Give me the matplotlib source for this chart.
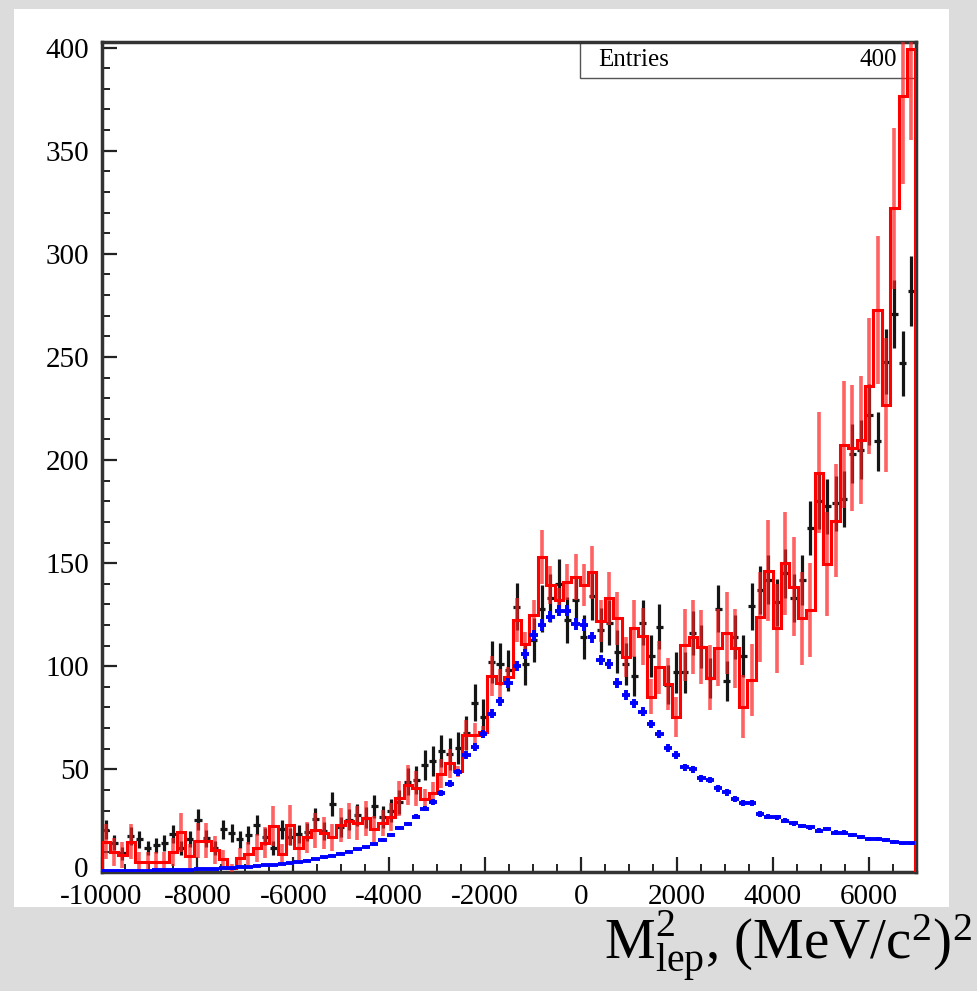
import numpy as np
import matplotlib.pyplot as plt
from matplotlib.patches import Rectangle
from matplotlib.ticker import MultipleLocator, FuncFormatter

plt.rcParams['font.family'] = 'Liberation Serif'
plt.rcParams['mathtext.fontset'] = 'custom'
plt.rcParams['mathtext.rm'] = 'Liberation Serif'
plt.rcParams['mathtext.it'] = 'Liberation Serif:italic'
plt.rcParams['axes.unicode_minus'] = False

# Histogram binning (ROOT style): first edge, bin width, number of bins
x_low = -10000
bin_w = 175
nbins = 97

# Data points (black)
black = [20.8, 14.5, 9.3, 17.7, 16.1, 11.7, 13.3, 14.3, 18.8, 11.7,
         16.2, 25.5, 16.6, 11.7, 20.9, 19.3, 16.1, 18.2, 23.0, 17.4,
         12.0, 20.9, 17.4, 18.5, 19.5, 26.0, 20.2, 33.2, 22.0, 25.5,
         28.0, 26.5, 32.0, 27.0, 30.0, 34.3, 44.0, 44.8, 52.1, 54.2,
         59.0, 57.5, 60.2, 67.5, 82.3, 75.5, 102.0, 101.0, 98.0, 128.8,
         101.0, 112.7, 128.0, 133.0, 140.0, 122.5, 132.0, 114.0, 134.0, 117.6,
         121.2, 107.0, 101.0, 95.3, 121.2, 105.0, 119.2, 91.0, 97.0, 97.0,
         116.0, 109.5, 94.5, 128.0, 93.0, 114.0, 105.0, 129.0, 137.0, 142.0,
         131.0, 145.0, 133.0, 141.8, 167.0, 180.0, 177.7, 179.0, 181.0, 203.0,
         205.0, 222.0, 209.0, 247.7, 270.8, 247.0, 282.0]

# Simulation total (red histogram)
red = [15, 10, 8.5, 15, 5.2, 5.2, 5.2, 5.2, 10, 19.5,
       8, 15.5, 15.5, 11, 6.4, 2, 7, 9, 12, 14.5,
       22.5, 9, 23, 12, 17, 20.5, 19, 17, 23, 25,
       24, 26.3, 21, 24, 27, 36, 42.4, 40.8, 35.5, 38.7,
       47.8, 52.9, 49, 66.7, 66.7, 68, 95.3, 91.7, 95, 122.4,
       111, 124.8, 153, 139.4, 132, 141, 143.4, 139.4, 145.5, 122,
       133, 123.2, 104.5, 118.4, 114.5, 85.3, 99.5, 91.5, 75.5, 110.3,
       114, 109.5, 94.5, 109, 116.2, 108.7, 80.4, 93.3, 124, 146.3,
       118.4, 149.9, 138.6, 123.2, 127.3, 193.9, 149.6, 170.6, 207.5, 205.7,
       209.8, 235.9, 272.7, 226.7, 322, 376.5, 399.3]

# Signal component (blue)
blue = [0.5, 0.6, 0.6, 0.7, 0.8, 0.9, 1.0, 1.1, 1.2, 1.3,
        1.4, 1.5, 1.7, 1.8, 2.0, 2.2, 2.5, 2.8, 3.1, 3.4,
        3.8, 4.2, 4.7, 5.2, 5.8, 6.5, 7.3, 8.1, 9.0, 10.0,
        11.2, 12.2, 13.6, 15.8, 18.0, 21.5, 23.5, 27.0, 31.0, 34.0,
        38.5, 43.0, 48.7, 57.0, 61.0, 67.0, 77.0, 83.0, 92.0, 100.0,
        106.0, 115.0, 120.0, 124.0, 127.0, 127.0, 120.5, 120.0, 114.0, 103.0,
        101.0, 92.0, 86.0, 82.0, 78.0, 72.0, 67.0, 60.3, 57.0, 51.0,
        50.0, 45.7, 44.8, 40.8, 38.8, 35.5, 33.9, 33.5, 28.4, 27.1,
        26.7, 25.1, 23.8, 22.5, 21.9, 20.3, 21.0, 19.3, 19.3, 18.2,
        17.1, 16.1, 16.1, 15.8, 14.9, 14.1, 14.1]

n_entries = 400

# weights of the MC samples (background weighted, signal high statistics)
w_bkg = 5.0
w_sig = 0.06

black = np.array(black)
red = np.array(red)
blue = np.array(blue)

edges = x_low + bin_w*np.arange(nbins + 1)
centers = 0.5*(edges[:-1] + edges[1:])

black_err = np.sqrt(black)
blue_err = np.sqrt(w_sig*blue)
red_err = np.sqrt(w_bkg*np.maximum(red - blue, 1) + w_sig*blue)

fig = plt.figure(figsize=(9.78, 9.91), dpi=100, facecolor='#dcdcdc')
# white pad behind the frame
fig.patches.append(Rectangle((14/978, 1 - 907/991), 935/978, 898/991,
                             transform=fig.transFigure, facecolor='white',
                             edgecolor='none', zorder=-1))

ax = fig.add_axes([0.1038, 0.1196, 0.8333, 0.838])

ax.errorbar(centers, black, xerr=0.42*bin_w, yerr=black_err, fmt='none',
            ecolor='#151515', elinewidth=2.3, capsize=0, zorder=2)
ax.vlines(centers, red - red_err, red + red_err, color='#ff2020', alpha=0.7,
          lw=2.6, zorder=3)
ax.stairs(red, edges, color='red', lw=2.2, zorder=4)
ax.errorbar(centers, blue, xerr=0.5*bin_w, yerr=blue_err, fmt='none',
            ecolor='#0000ff', elinewidth=2.8, capsize=0, zorder=5)

ax.set_xlim(-10000, 7000)
ax.set_ylim(0, 402.7)

ax.xaxis.set_major_locator(MultipleLocator(2000))
ax.xaxis.set_minor_locator(MultipleLocator(500))
ax.yaxis.set_major_locator(MultipleLocator(50))
ax.yaxis.set_minor_locator(MultipleLocator(10))
# the "0" of the y axis is written by hand, a little higher, like ROOT does
ax.yaxis.set_major_formatter(FuncFormatter(lambda v, p: '' if v == 0 else '%d' % v))
ax.tick_params(which='both', direction='in', top=False, right=False,
               colors='#222222', labelcolor='black', labelsize=21)
ax.tick_params(which='major', length=11, width=1.6)
ax.tick_params(which='minor', length=5.5, width=1.4)
ax.tick_params(axis='x', pad=8)
ax.tick_params(axis='y', pad=9)
ax.text(-0.0165, 0.0035, '0', transform=ax.transAxes, ha='right', va='center',
        fontsize=21)

for s in ax.spines.values():
    s.set_color('#333333')
    s.set_linewidth(2.5)

# stats box
ax.add_patch(Rectangle((0.587, 0.9566), 0.413, 0.0434, transform=ax.transAxes,
                       facecolor='white', edgecolor='#555555', lw=1,
                       clip_on=False, zorder=1.5))
ax.text(0.609, 0.978, 'Entries', transform=ax.transAxes, ha='left',
        va='center', fontsize=18)
ax.text(0.976, 0.978, str(n_entries), transform=ax.transAxes, ha='right',
        va='center', fontsize=18)

fig.text(0.994, 1 - 960/991, r'M$^{2}_{\mathrm{lep}}$, (MeV/c$^{2}$)$^{2}$',
         ha='right', va='baseline', fontsize=41)

fig.savefig('out.png', dpi=100, facecolor=fig.get_facecolor())
